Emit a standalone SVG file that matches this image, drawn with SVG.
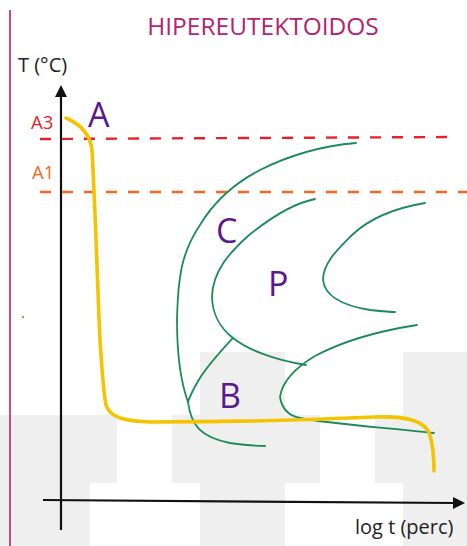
<svg xmlns="http://www.w3.org/2000/svg" width="467" height="546" viewBox="0 0 467 546">
<style>
.bg{fill:#efefef}
.ax{stroke:#111;stroke-width:2.2;fill:none}
.tick{font-family:"Open Sans","Liberation Sans",sans-serif;font-size:20px;fill:#222}
.lbl{font-family:"Open Sans","Liberation Sans",sans-serif;font-size:18.5px}
.big{font-family:"Open Sans","Liberation Sans",sans-serif;font-size:34px;fill:#5a1a8c}
.g{stroke:#1d8a5c;stroke-width:1.8;fill:none;stroke-linecap:round;stroke-linejoin:round}
.y{stroke:#f5c400;stroke-width:3.6;fill:none;stroke-linecap:round;stroke-linejoin:round}
</style>
<defs>
<marker id="arr" markerWidth="12" markerHeight="12" refX="2" refY="6" orient="auto" markerUnits="userSpaceOnUse">
<path d="M0,0 L12,6 L0,12 Z" fill="#111"/>
</marker>
</defs>
<rect width="467" height="546" fill="#fff"/>
<g id="background">
<rect class="bg" x="0" y="415" width="117" height="68"/>
<rect class="bg" x="0" y="483" width="90" height="63"/>
<rect class="bg" x="172" y="415" width="148" height="68"/>
<rect class="bg" x="200" y="352" width="85" height="194"/>
<rect class="bg" x="375" y="415" width="92" height="68"/>
<rect class="bg" x="403" y="352" width="64" height="194"/>
</g>
<line x1="10" y1="10" x2="10" y2="546" stroke="#c9478c" stroke-width="2"/>
<text id="title" x="263" y="35" text-anchor="middle" font-family="'Open Sans','Liberation Sans',sans-serif" font-size="24.5" fill="#b5246e">HIPEREUTEKTOIDOS</text>
<g id="axes">
<line class="ax" x1="61" y1="530" x2="61" y2="95" marker-end="url(#arr)"/>
<line class="ax" x1="43" y1="500" x2="455" y2="503" marker-end="url(#arr)"/>
<text class="tick" x="18" y="72">T (°C)</text>
<text class="tick" x="355" y="534">log t (perc)</text>
</g>
<g id="critical-lines">
<line x1="40" y1="139" x2="456" y2="137" stroke="#e8202a" stroke-width="2.4" stroke-dasharray="11 11"/>
<text class="lbl" x="31" y="129" fill="#e8202a">A3</text>
<line x1="40" y1="192" x2="467" y2="192" stroke="#f26a21" stroke-width="2.4" stroke-dasharray="11 11"/>
<text class="lbl" x="32" y="179" fill="#f26a21">A1</text>
</g>
<circle cx="23" cy="317" r="1.2" fill="#e08060"/>
<g id="connectors">
<path class="g" d="M356,143 C320,146 290,155 260,170 C235,183 215,200 200,225 C182,252 178,275 177,320 C177,350 180,380 188,402 C191,425 200,437 230,443 C245,445 255,446 265,446"/>
<path class="g" d="M315,199 C295,203 270,218 248,236 C228,254 213,272 212,296 C212,313 220,328 233,338 C248,350 275,360 306,365"/>
<path class="g" d="M233,338 C220,352 205,368 197,383 C193,390 190,396 188,402"/>
<path class="g" d="M425,203 C395,208 370,218 352,235 C337,250 323,263 323,280 C325,297 345,306 370,310 C380,311 390,312 395,312"/>
<path class="g" d="M417,325 C385,330 345,340 315,356 C295,368 282,382 280,397 C282,410 290,416 300,418 C330,424 380,427 434,433"/>
<path class="y" d="M66,118 C80,124 90,133 92,150 C95,200 98,300 100,340 C102,370 103,390 106,405 C110,418 125,421 150,422 C250,422 330,419 375,417 C405,416 425,420 430,435 C434,450 434,462 434,471"/>
</g>
<g id="regions">
<text id="A" class="big" x="88" y="127">A</text>
<text id="C" class="big" x="216" y="243">C</text>
<text id="P" class="big" x="268" y="296">P</text>
<text id="B" class="big" x="219" y="408">B</text>
</g>
</svg>
